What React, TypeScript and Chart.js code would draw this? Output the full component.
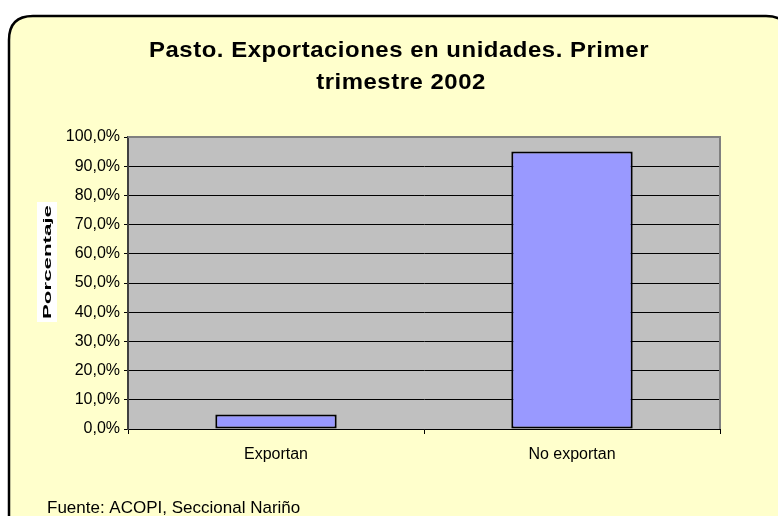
import React, { useEffect, useRef } from "react";
import { Chart, registerables } from "chart.js";

Chart.register(...registerables);

const titleLines = ["Pasto. Exportaciones en unidades. Primer", "trimestre 2002"];
const categories = ["Exportan", "No exportan"];
const percentValues = [5.0, 95.0];
const yAxisTitle = "Porcentaje";
const sourceNote = "Fuente: ACOPI, Seccional Nariño";
const yMin = 0;
const yMax = 100;
const yStep = 10;

const FONT = "'Liberation Sans', Arial, Helvetica, sans-serif";

const decorPlugin = {
  id: "decor",
  beforeDraw(chart: any) {
    const { ctx, chartArea } = chart;
    ctx.save();
    // frame
    const x = 9, y = 16, w = 771 + 10, h = 560, r = 24;
    ctx.beginPath();
    ctx.moveTo(x + r, y);
    ctx.lineTo(x + w - r, y);
    ctx.quadraticCurveTo(x + w, y, x + w, y + r);
    ctx.lineTo(x + w, y + h);
    ctx.lineTo(x, y + h);
    ctx.lineTo(x, y + r);
    ctx.quadraticCurveTo(x, y, x + r, y);
    ctx.closePath();
    ctx.fillStyle = "#FFFFCC";
    ctx.fill();
    ctx.lineWidth = 2.5;
    ctx.strokeStyle = "#000";
    ctx.stroke();
    // plot background
    ctx.fillStyle = "#C0C0C0";
    ctx.fillRect(chartArea.left, chartArea.top, chartArea.right - chartArea.left, chartArea.bottom - chartArea.top);
    // title
    ctx.fillStyle = "#000";
    ctx.font = `bold 22px ${FONT}`;
    ctx.textAlign = "center";
    ctx.textBaseline = "alphabetic";
    try { (ctx as any).letterSpacing = "0.5px"; } catch (e) {}
    const w1 = ctx.measureText(titleLines[0]).width;
    const sx = 500 / w1;
    ctx.save();
    ctx.translate(399, 57);
    ctx.scale(sx, 1);
    ctx.fillText(titleLines[0], 0, 0);
    ctx.restore();
    ctx.save();
    ctx.translate(401, 89);
    ctx.scale(sx, 1);
    ctx.fillText(titleLines[1], 0, 0);
    ctx.restore();
    try { (ctx as any).letterSpacing = "0px"; } catch (e) {}
    // footer
    ctx.font = `17px ${FONT}`;
    ctx.textAlign = "left";
    ctx.fillText(sourceNote, 47, 513);
    // y title
    ctx.save();
    ctx.translate(47, 262);
    ctx.rotate(-Math.PI / 2);
    ctx.fillStyle = "#FFFFFF";
    ctx.fillRect(-60, -10, 120, 20);
    ctx.fillStyle = "#000";
    ctx.font = `bold 11px ${FONT}`;
    ctx.textAlign = "center";
    ctx.textBaseline = "middle";
    const tw = ctx.measureText(yAxisTitle).width;
    ctx.scale(114 / tw, 1);
    ctx.fillText(yAxisTitle, 0, 1);
    ctx.restore();
    ctx.restore();
  },
  afterDatasetsDraw(chart: any) {
    const { ctx, chartArea } = chart;
    ctx.save();
    ctx.strokeStyle = "#808080";
    ctx.lineWidth = 2;
    ctx.beginPath();
    ctx.moveTo(chartArea.left, chartArea.top);
    ctx.lineTo(chartArea.right, chartArea.top);
    ctx.lineTo(chartArea.right, chartArea.bottom);
    ctx.stroke();
    ctx.restore();
  },
};

export default function App() {
  const ref = useRef<HTMLCanvasElement | null>(null);
  useEffect(() => {
    if (!ref.current) return;
    const chart = new Chart(ref.current, {
      type: "bar",
      data: {
        labels: categories,
        datasets: [
          {
            data: percentValues,
            backgroundColor: "#9999FF",
            borderColor: "#000000",
            borderWidth: 2,
            borderSkipped: false,
            barPercentage: 0.41,
            categoryPercentage: 1,
          },
        ],
      },
      options: {
        responsive: false,
        animation: false,
        layout: { padding: { top: 137, right: 58, left: 0, bottom: 0 } },
        plugins: {
          legend: { display: false },
          title: { display: false },
          tooltip: { enabled: false },
        },
        scales: {
          x: {
            afterFit: (s: any) => {
              s.height = 87;
            },
            grid: {
              display: true,
              drawOnChartArea: false,
              drawTicks: true,
              tickLength: 5,
              color: "#000",
            },
            border: { display: true, color: "#000", width: 1 },
            ticks: {
              color: "#000",
              font: { family: FONT, size: 16 },
              padding: 11,
              maxRotation: 0,
            },
          },
          y: {
            min: yMin,
            max: yMax,
            afterFit: (s: any) => {
              s.width = 128;
            },
            grid: {
              color: (c: any) => (c.tick && c.tick.value === yMax ? "#808080" : "#000"),
              tickColor: "#000",
              tickLength: 4,
              lineWidth: 1,
            },
            border: { display: true, color: "#404040", width: 2 },
            ticks: {
              stepSize: yStep,
              color: "#000",
              font: { family: FONT, size: 16 },
              padding: 4,
              callback: (v: any) => Number(v).toFixed(1).replace(".", ",") + "%",
            },
          },
        },
      },
      plugins: [decorPlugin],
    });
    return () => chart.destroy();
  }, []);
  return (
    <div style={{ position: "fixed", left: 0, top: 0, width: 778, height: 516, background: "#fff" }}>
      <canvas ref={ref} width={778} height={516} style={{ display: "block", width: 778, height: 516 }} />
    </div>
  );
}
